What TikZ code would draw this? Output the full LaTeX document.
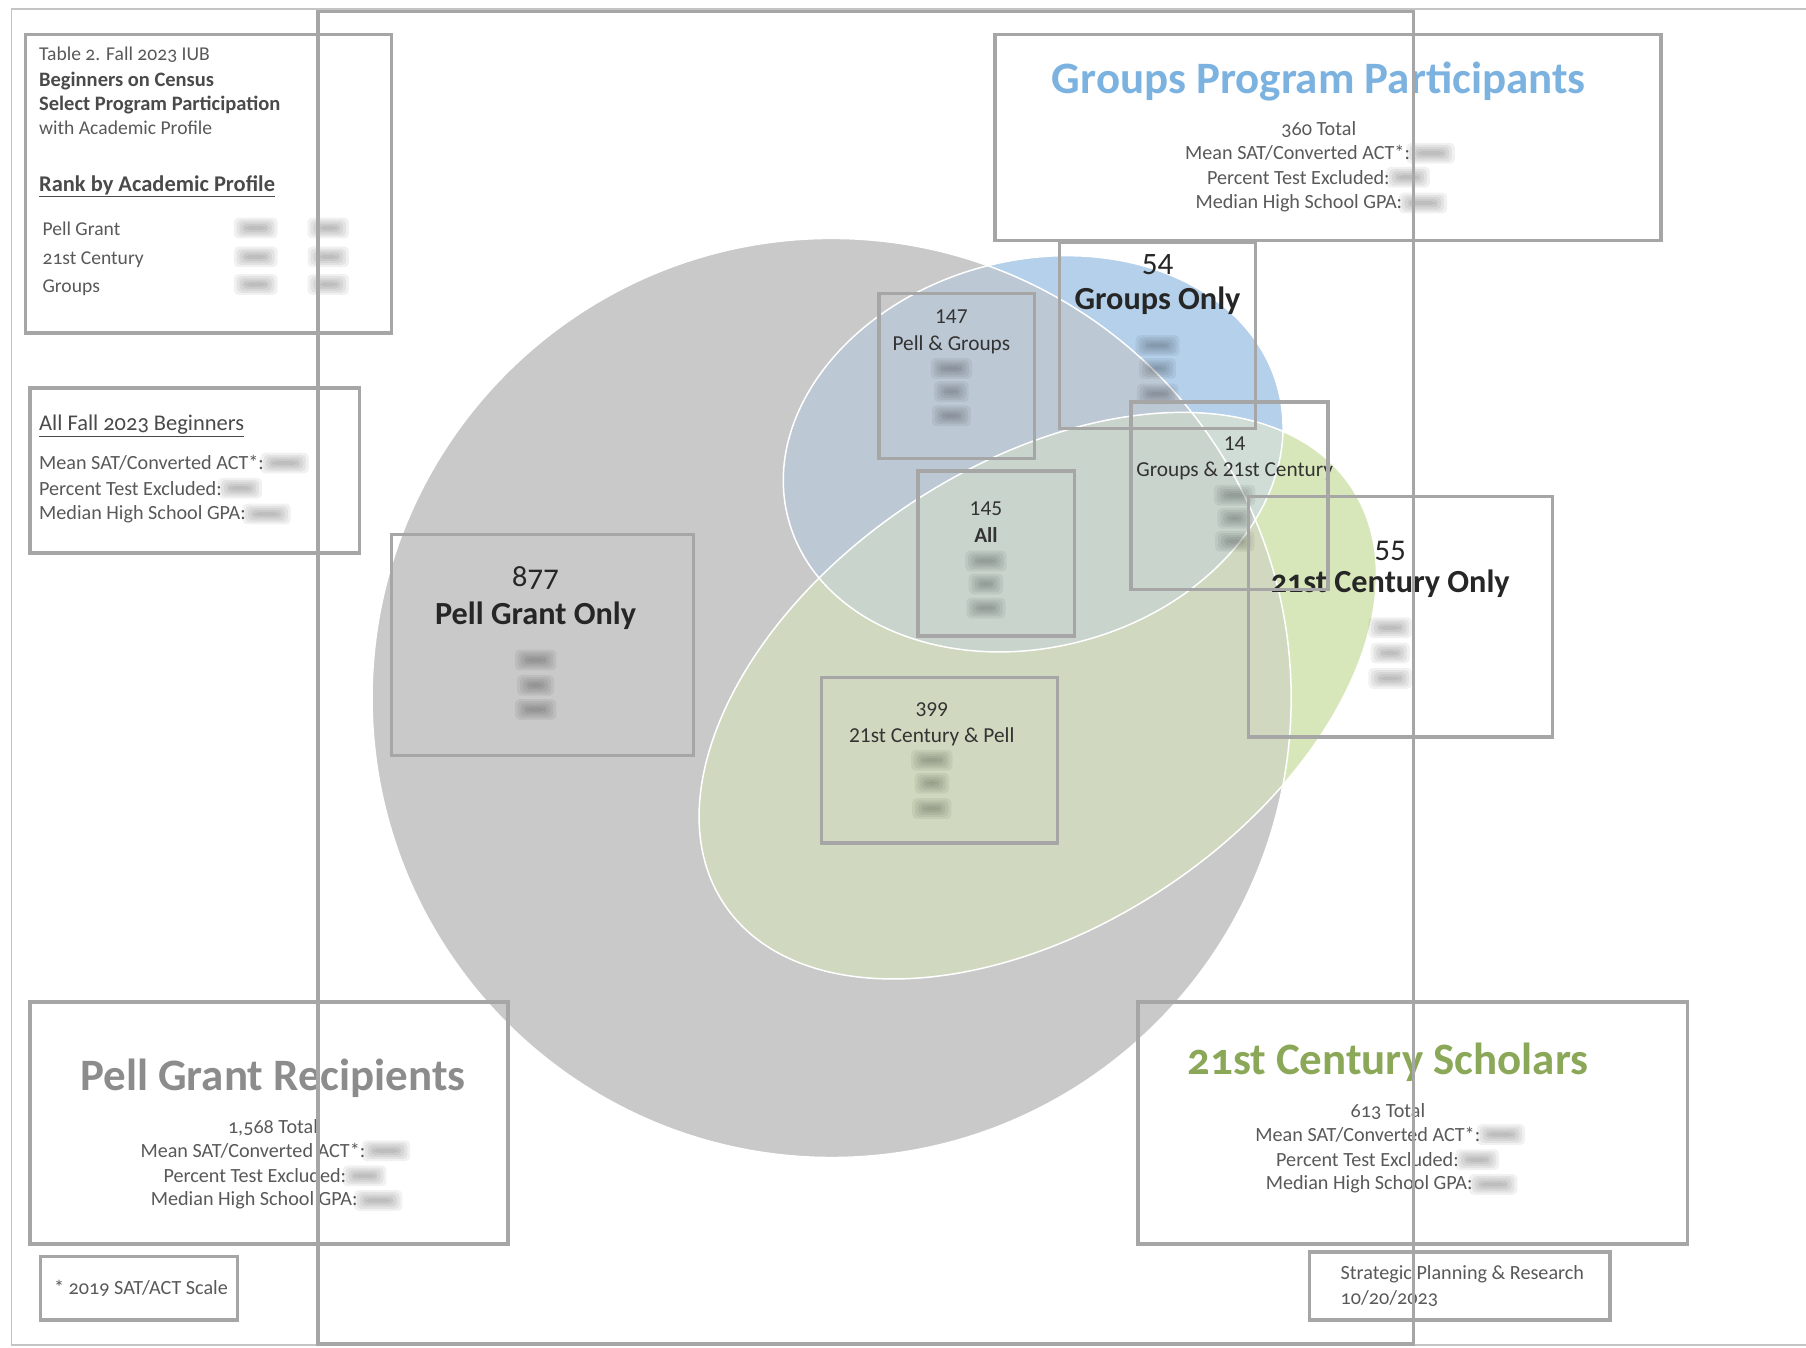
\documentclass[tikz,border=0pt]{standalone}
\usepackage{fontspec}
\setmainfont{Carlito}
\newfontfamily\cand{Carlito}[Numbers=OldStyle]
\definecolor{boxc}{HTML}{A6A6A6}
\definecolor{framec}{HTML}{C4C4C4}
\definecolor{pellc}{HTML}{C9C9C9}
\definecolor{grpc}{HTML}{B4D0EA}
\definecolor{pgc}{HTML}{BDC8D5}
\definecolor{cenc}{HTML}{D8E7BA}
\definecolor{cpc}{HTML}{D0D9BF}
\definecolor{gcc}{HTML}{CFDDD6}
\definecolor{allc}{HTML}{C9D4CD}
\definecolor{txg}{HTML}{595959}
\definecolor{txb}{HTML}{4A4A4A}
\definecolor{txd}{HTML}{262626}
\definecolor{txm}{HTML}{333333}
\definecolor{ttblue}{HTML}{7CB2E0}
\definecolor{ttgray}{HTML}{8C8C8C}
\definecolor{ttgreen}{HTML}{8BA859}
\tikzset{
  bx/.style={draw=boxc, line width=3pt},
  fr/.style={draw=framec, line width=1.5pt},
  cnode/.style={inner sep=0pt, outer sep=0pt, anchor=mid},
  lnode/.style={inner sep=0pt, outer sep=0pt, anchor=mid west},
  small/.style={font=\cand\fontsize{17}{20}\selectfont, text=txg, yshift=-4.5pt},
  smallb/.style={font=\cand\bfseries\fontsize{17.8}{20}\selectfont, text=txb, yshift=-4.5pt},
  stat/.style={font=\cand\fontsize{17.5}{20}\selectfont, text=txg, yshift=-4.5pt},
  ttl/.style={font=\cand\bfseries\fontsize{39}{44}\selectfont, yshift=-10.5pt},
  bigc/.style={font=\cand\bfseries\fontsize{28}{32}\selectfont, text=txd, yshift=-7pt},
  bignumc/.style={font=\cand\fontsize{27}{32}\selectfont, text=txd, yshift=-7pt},
  bigl/.style={font=\bfseries\fontsize{28}{32}\selectfont, text=txd, yshift=-7pt},
  bignuml/.style={font=\fontsize{27}{32}\selectfont, text=txd, yshift=-7pt},
  reg/.style={font=\fontsize{18.5}{22}\selectfont, text=txm, yshift=-4.5pt},
  regb/.style={font=\bfseries\fontsize{18.5}{22}\selectfont, text=txm, yshift=-4.5pt},
  pics/blurv/.style={code={\foreach \k in {0,1,2,3,4}{\fill[black,opacity=0.055,rounded corners=4pt] ({-#1/2-6+2.5*\k},{-9+1.8*\k}) rectangle ({#1/2+6-2.5*\k},{9-1.8*\k});}}}
}
\begin{document}
\begin{tikzpicture}[x=1pt,y=1pt]
\useasboundingbox (0,0) rectangle (1568,1170);
\fill[white] (0,0) rectangle (1568,1170);
% ---- Venn regions
\fill[pellc] (722,564) circle[radius=399];
\fill[grpc, shift={(897,776)}, rotate=15] (0,0) ellipse[x radius=220, y radius=168];
\begin{scope}
  \clip[shift={(897,776)}, rotate=15] (0,0) ellipse[x radius=220, y radius=168];
  \fill[pgc] (722,564) circle[radius=399];
\end{scope}
\fill[cenc, shift={(901,566)}, rotate=33.6] (0,0) ellipse[x radius=327, y radius=200];
\begin{scope}
  \clip[shift={(901,566)}, rotate=33.6] (0,0) ellipse[x radius=327, y radius=200];
  \fill[cpc] (722,564) circle[radius=399];
  \fill[gcc, shift={(897,776)}, rotate=15] (0,0) ellipse[x radius=220, y radius=168];
  \clip[shift={(897,776)}, rotate=15] (0,0) ellipse[x radius=220, y radius=168];
  \fill[allc] (722,564) circle[radius=399];
\end{scope}
\draw[white, line width=1.3pt] (722,564) circle[radius=399];
\draw[white, line width=1.3pt, shift={(897,776)}, rotate=15] (0,0) ellipse[x radius=220, y radius=168];
\draw[white, line width=1.3pt, shift={(901,566)}, rotate=33.6] (0,0) ellipse[x radius=327, y radius=200];
% ---- Table box text
\node[lnode, small] (t1) at (34,1124) {Table 2. Fall 2023 IUB};
\node[lnode, smallb] (t2) at (34,1102) {Beginners on Census};
\node[lnode, smallb] (t3) at (34,1081) {Select Program Participation};
\node[lnode, small] (t4) at (34,1060) {with Academic Profile};
\node[lnode, smallb, font=\cand\bfseries\fontsize{19.5}{22}\selectfont] (t5) at (34,1011) {\underline{Rank by Academic Profile}};
\node[lnode, small] (t6) at (37,972) {Pell Grant};
\node[lnode, small] (t7) at (37,947) {21st Century};
\node[lnode, small] (t8) at (37,923) {Groups};
\pic at (222,972) {blurv=26}; \pic at (285,972) {blurv=24};
\pic at (222,947) {blurv=26}; \pic at (285,947) {blurv=24};
\pic at (222,923) {blurv=26}; \pic at (285,923) {blurv=24};
% ---- All Fall
\node[lnode, small, text=txb, font=\cand\fontsize{19.5}{22}\selectfont] (a1) at (34,803) {\underline{All Fall 2023 Beginners}};
\node[lnode, stat] (a2) at (34,769) {Mean SAT/Converted ACT*:};
\path (a2.east) ++(18,0) pic {blurv=30};
\node[lnode, stat] (a3) at (34,747) {Percent Test Excluded:};
\path (a3.east) ++(16,0) pic {blurv=26};
\node[lnode, stat] (a4) at (34,726) {Median High School GPA:};
\path (a4.east) ++(18,0) pic {blurv=30};
% ---- Groups Program Participants
\node[cnode, ttl, text=ttblue] (g0) at (1145,1102) {Groups Program Participants};
\node[cnode, stat] (g1) at (1145,1059) {360 Total};
\node[lnode, stat] (g2) at (1029,1038) {Mean SAT/Converted ACT*:};
\path (g2.east) ++(18,0) pic {blurv=30};
\node[lnode, stat] (g3) at (1048,1017) {Percent Test Excluded:};
\path (g3.east) ++(16,0) pic {blurv=26};
\node[lnode, stat] (g4) at (1038,996) {Median High School GPA:};
\path (g4.east) ++(18,0) pic {blurv=30};
% ---- Groups Only
\node[cnode, bignuml] (go1) at (1005,941) {54};
\node[cnode, bigl] (go2) at (1005,911) {Groups Only};
\pic at (1005,870) {blurv=26}; \pic at (1005,850) {blurv=20}; \pic at (1005,828) {blurv=24};
% ---- Pell & Groups
\node[cnode, reg] (pg1) at (826,896) {147};
\node[cnode, reg] (pg2) at (826,873) {Pell \& Groups};
\pic at (826,850) {blurv=24}; \pic at (826,830) {blurv=18}; \pic at (826,809) {blurv=22};
% ---- Groups & 21st Century
\node[cnode, reg] (gc1) at (1072,786) {14};
\node[cnode, reg] (gc2) at (1072,763) {Groups \& 21st Century};
\pic at (1072,740) {blurv=24}; \pic at (1072,720) {blurv=18}; \pic at (1072,700) {blurv=22};
% ---- All
\node[cnode, reg] (al1) at (856,729) {145};
\node[cnode, regb] (al2) at (856,706) {All};
\pic at (856,683) {blurv=24}; \pic at (856,663) {blurv=18}; \pic at (856,642) {blurv=22};
% ---- 21st Century Only
\node[cnode, bignumc] (co1) at (1207,695) {55};
\node[cnode, bigc] (co2) at (1207,665) {21st Century Only};
\pic at (1207,625) {blurv=26}; \pic at (1207,603) {blurv=22}; \pic at (1207,581) {blurv=26};
% ---- Pell Grant Only
\node[cnode, bignumc] (po1) at (465,670) {877};
\node[cnode, bigc] (po2) at (465,637) {Pell Grant Only};
\pic at (465,597) {blurv=24}; \pic at (465,575) {blurv=20}; \pic at (465,554) {blurv=24};
% ---- 21st Century & Pell
\node[cnode, reg] (cp1) at (809,555) {399};
\node[cnode, reg] (cp2) at (809,532) {21st Century \& Pell};
\pic at (809,510) {blurv=24}; \pic at (809,490) {blurv=18}; \pic at (809,468) {blurv=22};
% ---- Pell Grant Recipients
\node[cnode, ttl, text=ttgray] (p0) at (237,236) {Pell Grant Recipients};
\node[cnode, stat] (p1) at (237,193) {1,568 Total};
\node[lnode, stat] (p2) at (122,172) {Mean SAT/Converted ACT*:};
\path (p2.east) ++(18,0) pic {blurv=30};
\node[lnode, stat] (p3) at (142,150) {Percent Test Excluded:};
\path (p3.east) ++(16,0) pic {blurv=26};
\node[lnode, stat] (p4) at (131,130) {Median High School GPA:};
\path (p4.east) ++(18,0) pic {blurv=30};
% ---- 21st Century Scholars
\node[cnode, ttl, text=ttgreen] (s0) at (1205,250) {21st Century Scholars};
\node[cnode, stat] (s1) at (1205,207) {613 Total};
\node[lnode, stat] (s2) at (1090,186) {Mean SAT/Converted ACT*:};
\path (s2.east) ++(18,0) pic {blurv=30};
\node[lnode, stat] (s3) at (1108,164) {Percent Test Excluded:};
\path (s3.east) ++(16,0) pic {blurv=26};
\node[lnode, stat] (s4) at (1099,144) {Median High School GPA:};
\path (s4.east) ++(18,0) pic {blurv=30};
% ---- footers
\node[lnode, stat] (f1) at (47,53) {* 2019 SAT/ACT Scale};
\node[lnode, stat] (f2) at (1164,66) {Strategic Planning \& Research};
\node[lnode, stat] (f3) at (1164,44) {10/20/2023};
% ---- frame and boxes
\draw[fr] (1568,1162) -- (10,1162) -- (10,2) -- (1568,2);
\draw[bx] (276,1160) rectangle (1227,3);
\draw[bx] (22,1140) rectangle (340,881);
\draw[bx] (26,833) rectangle (312,690);
\draw[bx] (864,1140) rectangle (1442,961);
\draw[bx] (920,960) rectangle (1090,798);
\draw[bx] (763,915) rectangle (898,772);
\draw[bx] (982,821) rectangle (1153,658);
\draw[bx] (797,761) rectangle (933,618);
\draw[bx] (1084,739) rectangle (1348,530);
\draw[bx] (340,706) rectangle (602,514);
\draw[bx] (713,582) rectangle (918,438);
\draw[bx] (26,300) rectangle (441,90);
\draw[bx] (988,300) rectangle (1465,90);
\draw[bx] (35,79) rectangle (206,24);
\draw[bx] (1137,83) rectangle (1398,24);
\end{tikzpicture}
\end{document}
